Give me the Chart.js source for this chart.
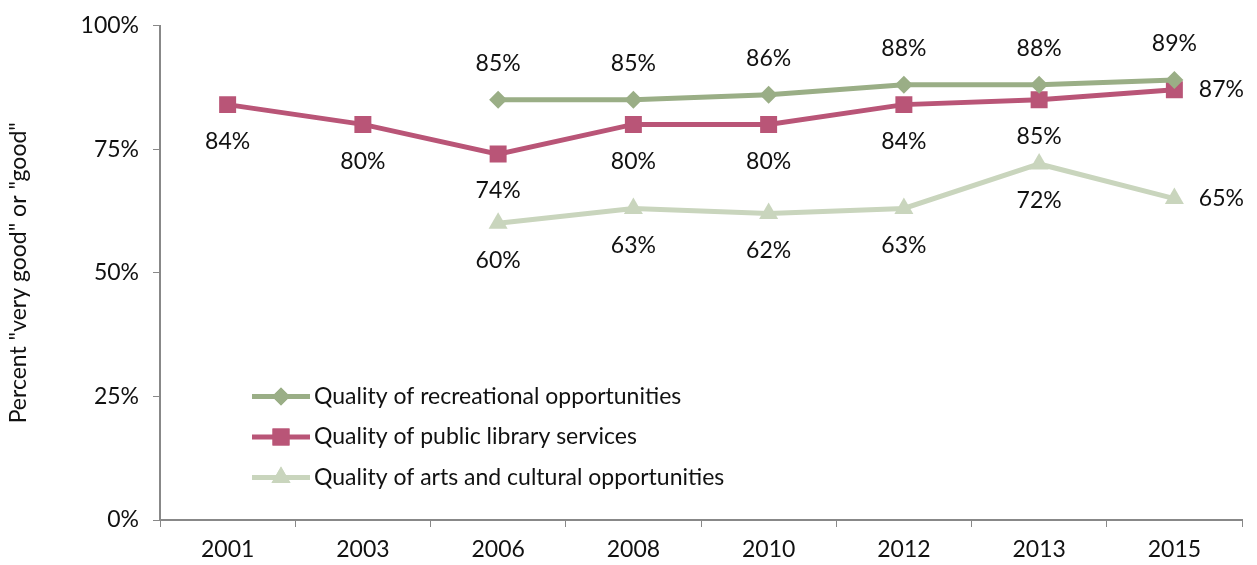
<!DOCTYPE html>
<html>
<head>
<meta charset="utf-8">
<script src="https://cdn.jsdelivr.net/npm/chart.js@4/dist/chart.umd.min.js"></script>
<style>
  html, body { margin: 0; padding: 0; background: #fff; }
  #wrap { width: 1257px; height: 565px; }
</style>
</head>
<body>
<div id="wrap"><canvas id="chart" width="1257" height="565"></canvas></div>
<script>
// survey years and ratings (percent "very good" or "good")
const years = ['2001', '2003', '2006', '2008', '2010', '2012', '2013', '2015'];
const recreation = [null, null, 85, 85, 86, 88, 88, 89];
const library = [84, 80, 74, 80, 80, 84, 85, 87];
const arts = [null, null, 60, 63, 62, 63, 72, 65];
const yTicks = [0, 25, 50, 75, 100];

const FONT = 'Lato, "Open Sans", sans-serif';
const SIZE = 23;
const green = '#9aae86';
const rose = '#b95577';
const pale = '#c9d5bd';

// value labels: above for recreation, below for the others, last point to the right
const valueLabels = {
    id: 'valueLabels',
    afterDatasetsDraw(chart) {
        const ctx = chart.ctx;
        ctx.save();
        ctx.font = SIZE + 'px ' + FONT;
        ctx.fillStyle = '#111';
        ctx.textAlign = 'center';
        ctx.textBaseline = 'middle';
        chart.data.datasets.forEach((ds, i) => {
            const meta = chart.getDatasetMeta(i);
            meta.data.forEach((pt, j) => {
                const v = ds.data[j];
                if (v === null) return;
                let x = pt.x, y = pt.y;
                if (ds.labelPos === 'above') {
                    y -= 36;
                } else if (j === ds.data.length - 1) {
                    x += 47;
                } else {
                    y += 37;
                }
                ctx.fillText(v + '%', x, y);
            });
        });
        ctx.restore();
    }
};

// legend drawn inside the plot, lower left
const innerLegend = {
    id: 'innerLegend',
    afterDraw(chart) {
        const ctx = chart.ctx;
        const a = chart.chartArea;
        ctx.save();
        chart.data.datasets.forEach((ds, i) => {
            const y = a.top + 371 + i * 40.5;
            const x0 = a.left + 92;
            ctx.strokeStyle = ds.borderColor;
            ctx.lineWidth = 5;
            ctx.beginPath();
            ctx.moveTo(x0, y);
            ctx.lineTo(x0 + 58, y);
            ctx.stroke();
            ctx.fillStyle = ds.borderColor;
            Chart.helpers.drawPoint(ctx, {
                pointStyle: ds.pointStyle,
                radius: ds.pointRadius,
                borderWidth: 0
            }, x0 + 29, y);
            ctx.fill();
            ctx.fillStyle = '#111';
            ctx.font = SIZE + 'px ' + FONT;
            ctx.textAlign = 'left';
            ctx.textBaseline = 'middle';
            ctx.fillText(ds.label, x0 + 62, y);
        });
        ctx.restore();
    }
};

const ctx = document.getElementById('chart').getContext('2d');
new Chart(ctx, {
    type: 'line',
    data: {
        labels: years,
        datasets: [
            {
                label: 'Quality of recreational opportunities',
                data: recreation,
                borderColor: green,
                backgroundColor: green,
                pointStyle: 'rectRot',
                pointRadius: 9,
                labelPos: 'above'
            },
            {
                label: 'Quality of public library services',
                data: library,
                borderColor: rose,
                backgroundColor: rose,
                pointStyle: 'rect',
                pointRadius: 12,
                labelPos: 'below'
            },
            {
                label: 'Quality of arts and cultural opportunities',
                data: arts,
                borderColor: pale,
                backgroundColor: pale,
                pointStyle: 'triangle',
                pointRadius: 11,
                labelPos: 'below'
            }
        ].map(d => Object.assign(d, {
            borderWidth: 5,
            pointBorderWidth: 0,
            pointHoverRadius: d.pointRadius,
            tension: 0,
            fill: false,
            spanGaps: false
        }))
    },
    options: {
        responsive: false,
        animation: false,
        layout: { padding: { top: 24, right: 15, left: 0, bottom: 0 } },
        plugins: {
            legend: { display: false },
            tooltip: { enabled: false }
        },
        scales: {
            x: {
                offset: true,
                grid: {
                    offset: true,
                    drawOnChartArea: false,
                    tickLength: 7,
                    color: '#888'
                },
                border: { color: '#888', width: 2 },
                ticks: { color: '#111', font: { family: FONT, size: SIZE }, padding: 9 },
                afterFit(scale) { scale.height = 45; }
            },
            y: {
                min: 0,
                max: 100,
                afterBuildTicks(scale) { scale.ticks = yTicks.map(v => ({ value: v })); },
                grid: {
                    drawOnChartArea: false,
                    tickLength: 7,
                    color: '#888'
                },
                border: { color: '#888', width: 2 },
                ticks: {
                    color: '#111',
                    font: { family: FONT, size: SIZE, lineHeight: 1 },
                    padding: 14,
                    callback: v => v + '%'
                },
                title: {
                    display: true,
                    text: 'Percent "very good" or "good"',
                    color: '#111',
                    font: { family: FONT, size: SIZE },
                    padding: { top: 5, bottom: 12 }
                },
                afterFit(scale) { scale.width = 160; }
            }
        }
    },
    plugins: [valueLabels, innerLegend]
});
</script>
</body>
</html>
